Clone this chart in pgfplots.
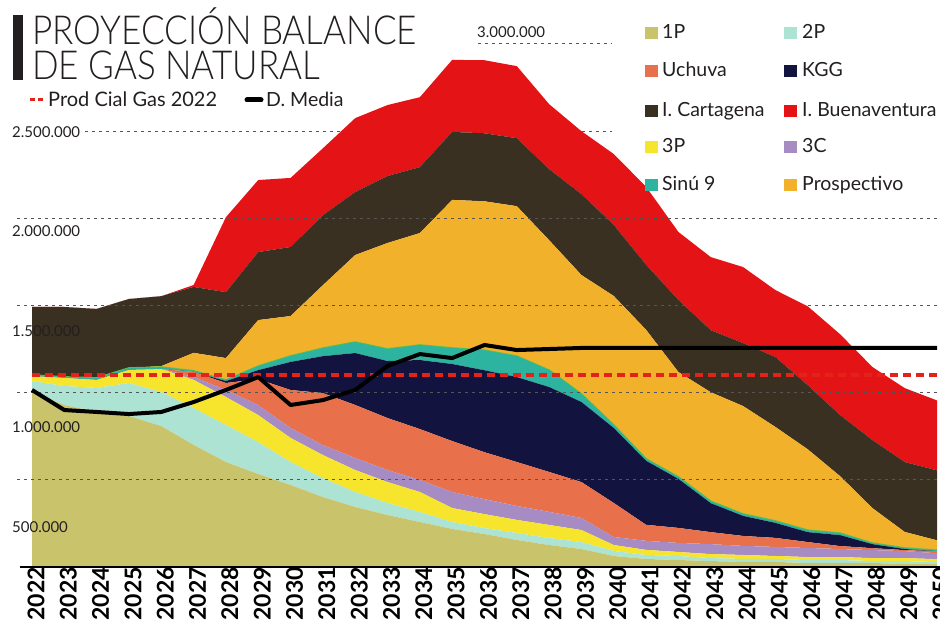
\documentclass[border=0pt]{standalone}
\usepackage{pgfplots}
\pgfplotsset{compat=1.18}
\usepackage{pgfplotstable}
\usepackage{graphicx}
\usepackage{fontspec}
\setmainfont{Lato}
\IfFontExistsTF{Lato Light}{\newfontfamily\titlefont{Lato Light}}{\newfontfamily\titlefont{Lato}}

\definecolor{c1P}{HTML}{C9C36C}
\definecolor{c2P}{HTML}{ADE3D3}
\definecolor{c3P}{HTML}{F6E52C}
\definecolor{c3C}{HTML}{A68CC2}
\definecolor{cUch}{HTML}{E8714B}
\definecolor{cKGG}{HTML}{12133F}
\definecolor{cSinu}{HTML}{2DB4A0}
\definecolor{cEdge}{HTML}{5CC04A}
\definecolor{cPro}{HTML}{F2B12B}
\definecolor{cCart}{HTML}{3A3021}
\definecolor{cBue}{HTML}{E31316}
\definecolor{cProd}{HTML}{E2231A}
\definecolor{txt}{HTML}{231F20}
\definecolor{gridc}{HTML}{555555}

% values in thousands of units
\pgfplotstableread{
year p1 p2 p3 c3 uch kgg sinu edge prosp cart buen
2022 1003 63 29 0 0 0 6 0 0 390 0
2023 929 109 46 0 0 0 6 0 0 401 0
2024 889 138 46 0 0 0 11 0 0 396 0
2025 866 189 75 0 0 0 11 0 0 396 0
2026 808 195 132 0 0 0 11 0 6 401 0
2027 700 212 161 17 29 0 6 0 103 378 11
2028 602 212 161 40 40 11 6 0 126 378 430
2029 533 183 155 57 149 52 23 0 264 390 413
2030 470 132 138 57 218 161 34 0 229 396 396
2031 401 109 132 57 298 212 46 0 361 401 384
2032 344 86 126 69 304 298 63 0 499 361 424
2033 298 69 120 69 298 327 69 0 608 384 407
2034 258 57 115 69 292 396 86 0 642 378 401
2035 218 40 80 92 292 442 92 0 849 390 413
2036 189 34 80 86 269 470 115 0 854 390 419
2037 155 40 75 80 252 487 120 0 860 390 413
2038 126 40 75 75 229 487 97 0 745 407 373
2039 103 40 69 69 206 459 46 0 682 464 361
2040 63 29 34 46 195 430 17 0 740 407 407
2041 46 23 29 52 92 367 11 0 740 373 447
2042 40 23 23 52 86 281 11 0 602 413 390
2043 34 17 23 57 69 166 11 0 625 356 419
2044 29 17 23 52 57 115 11 0 619 361 436
2045 29 17 17 52 52 86 11 0 539 401 384
2046 23 17 17 52 34 57 11 0 464 367 453
2047 23 17 17 46 17 63 11 0 327 350 464
2048 23 11 17 46 11 23 6 0 201 390 419
2049 17 17 17 40 6 6 6 0 92 401 424
2050 17 11 17 34 11 0 6 0 57 401 401
}\supply

\pgfplotstableread{
year dm prod
2022 1015 1101
2023 900 1101
2024 889 1101
2025 877 1101
2026 889 1101
2027 946 1101
2028 1015 1101
2029 1089 1101
2030 929 1101
2031 957 1101
2032 1015 1101
2033 1153 1101
2034 1221 1101
2035 1198 1101
2036 1273 1101
2037 1244 1101
2038 1250 1101
2039 1256 1101
2040 1256 1101
2041 1256 1101
2042 1256 1101
2043 1256 1101
2044 1256 1101
2045 1256 1101
2046 1256 1101
2047 1256 1101
2048 1256 1101
2049 1256 1101
2050 1256 1101
}\demand

\pgfplotsset{base/.style={at={(32pt,61pt)}, anchor=south west, scale only axis,
  width=905pt, height=540.6pt, xmin=2022, xmax=2050, ymin=0, ymax=3100, clip=false}}

\begin{document}
\begin{tikzpicture}
\path[use as bounding box] (0pt,0pt) rectangle (940pt,628pt);

\begin{axis}[base, stack plots=y,
  axis y line=none, axis x line*=bottom, x axis line style={draw=none},
  xtick={2022,2023,...,2050}, major tick length=0pt,
  /pgf/number format/1000 sep={}, /pgf/number format/assume math mode=true,
  xticklabel style={rotate=90, anchor=east, inner sep=0pt, yshift=-4pt,
    font=\bfseries\fontsize{23}{23}\selectfont, text=black}]
\addplot[fill=c1P, draw=none, mark=none] table[x=year, y=p1]{\supply} \closedcycle;
\addplot[fill=c2P, draw=none, mark=none] table[x=year, y=p2]{\supply} \closedcycle;
\addplot[fill=c3P, draw=none, mark=none] table[x=year, y=p3]{\supply} \closedcycle;
\addplot[fill=c3C, draw=none, mark=none] table[x=year, y=c3]{\supply} \closedcycle;
\addplot[fill=cUch, draw=none, mark=none] table[x=year, y=uch]{\supply} \closedcycle;
\addplot[fill=cKGG, draw=none, mark=none] table[x=year, y=kgg]{\supply} \closedcycle;
\addplot[fill=cSinu, draw=none, mark=none] table[x=year, y=sinu]{\supply} \closedcycle;
\addplot[draw=cEdge, line width=1.6pt, mark=none] table[x=year, y=edge]{\supply};
\addplot[fill=cPro, draw=none, mark=none] table[x=year, y=prosp]{\supply} \closedcycle;
\addplot[fill=cCart, draw=none, mark=none] table[x=year, y=cart]{\supply} \closedcycle;
\addplot[fill=cBue, draw=none, mark=none] table[x=year, y=buen]{\supply} \closedcycle;
\end{axis}

\begin{axis}[base, hide axis]
% dotted grid lines
\draw[gridc, line width=0.9pt, dash pattern=on 3pt off 4pt] (axis cs:2021.54,500) -- (axis cs:2050.1,500);
\draw[gridc, line width=0.9pt, dash pattern=on 3pt off 4pt] (axis cs:2021.54,1000) -- (axis cs:2050.1,1000);
\draw[gridc, line width=0.9pt, dash pattern=on 3pt off 4pt] (axis cs:2021.54,1500) -- (axis cs:2050.1,1500);
\draw[gridc, line width=0.9pt, dash pattern=on 3pt off 4pt] (axis cs:2021.54,2000) -- (axis cs:2050.1,2000);
\draw[gridc, line width=0.9pt, dash pattern=on 3pt off 4pt] (axis cs:2023.64,2500) -- (axis cs:2039.95,2500);
\draw[gridc, line width=0.9pt, dash pattern=on 3pt off 4pt] (axis cs:2035.8,3000) -- (axis cs:2039.95,3000);
\addplot[cProd, line width=3.5pt, dash pattern=on 8pt off 5pt, mark=none] table[x=year, y=prod]{\demand};
\addplot[black, line width=4pt, mark=none, line join=round] table[x=year, y=dm]{\demand};
\end{axis}

% baseline
\draw[black, line width=1.5pt] (20pt,61pt) -- (940pt,61pt);

% y labels
\begin{scope}[every node/.style={anchor=base west, inner sep=0pt, text=txt, font=\fontsize{15}{15}\selectfont}]
\node at (477pt,590pt) {3.000.000};
\node at (12pt,490pt) {2.500.000};
\node at (12pt,391pt) {2.000.000};
\node at (12pt,291pt) {1.500.000};
\node at (12pt,195pt) {1.000.000};
\node at (12pt,95pt) {500.000};
\end{scope}

% title
\fill[txt] (13pt,548pt) rectangle (23pt,613pt);
\node[anchor=base west, inner sep=0pt, text=txt] at (32pt,583pt)
  {\resizebox{385pt}{\height}{\titlefont\fontsize{40}{40}\selectfont PROYECCIÓN BALANCE}};
\node[anchor=base west, inner sep=0pt, text=txt] at (32pt,548pt)
  {\resizebox{288pt}{\height}{\titlefont\fontsize{40}{40}\selectfont DE GAS NATURAL}};

% line legend
\draw[cProd, line width=3pt] (30pt,528pt) -- (35pt,528pt) (38pt,528pt) -- (43pt,528pt);
\node[anchor=base west, inner sep=0pt, text=txt, font=\fontsize{20}{20}\selectfont] at (48pt,521pt) {Prod Cial Gas 2022};
\draw[black, line width=5pt, line cap=round] (247pt,528pt) -- (261pt,528pt);
\node[anchor=base west, inner sep=0pt, text=txt, font=\fontsize{19.5}{19.5}\selectfont] at (266pt,521pt) {D. Media};

% area legend
\begin{scope}[every node/.style={anchor=base west, inner sep=0pt, text=txt, font=\fontsize{19.5}{19.5}\selectfont}]
\fill[c1P] (645pt,589pt) rectangle (658pt,601pt); \node at (662pt,589pt) {1P};
\fill[c2P] (784pt,589pt) rectangle (797pt,601pt); \node at (802pt,589pt) {2P};
\fill[cUch] (645pt,551pt) rectangle (658pt,563pt); \node at (662pt,551pt) {Uchuva};
\fill[cKGG] (784pt,551pt) rectangle (797pt,563pt); \node at (802pt,551pt) {KGG};
\fill[cCart] (645pt,511pt) rectangle (658pt,523pt); \node at (662pt,511pt) {I. Cartagena};
\fill[cBue] (784pt,511pt) rectangle (797pt,523pt); \node at (802pt,511pt) {I. Buenaventura};
\fill[c3P] (645pt,475pt) rectangle (658pt,487pt); \node at (662pt,475pt) {3P};
\fill[c3C] (784pt,475pt) rectangle (797pt,487pt); \node at (802pt,475pt) {3C};
\fill[cSinu] (645pt,437pt) rectangle (658pt,449pt); \node at (662pt,437pt) {Sinú 9};
\fill[cPro] (784pt,437pt) rectangle (797pt,449pt); \node at (802pt,437pt) {Prospectivo};
\end{scope}
\end{tikzpicture}
\end{document}
